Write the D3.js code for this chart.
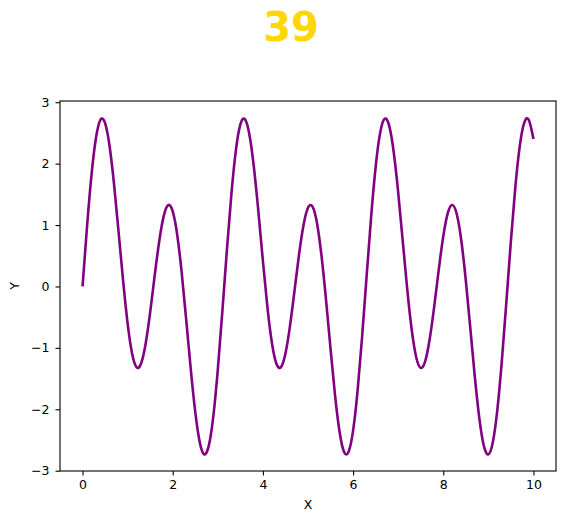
<!DOCTYPE html>
<html>
<head>
<meta charset="utf-8">
<script src="https://cdn.jsdelivr.net/npm/d3@7"></script>
<style>
  html, body { margin: 0; padding: 0; background: #fff; }
  svg { display: block; font-family: "DejaVu Sans", sans-serif; }
</style>
</head>
<body>
<div id="chart"></div>
<script>
// curve values, every 0.1 on x
const xValues = d3.range(0, 101).map(i => i / 10);
const yValues = [
  0.000, 0.978, 1.824, 2.429, 2.717, 2.660, 2.283, 1.655, 0.883, 0.089,
  -0.604, -1.095, -1.317, -1.251, -0.928, -0.418, 0.175, 0.733, 1.145, 1.324,
  1.222, 0.838, 0.218, -0.548, -1.345, -2.047, -2.539, -2.735, -2.592, -2.115,
  -1.352, -0.412, 0.580, 1.496, 2.213, 2.638, 2.725, 2.476, 1.941, 1.214,
  0.414, -0.335, -0.921, -1.259, -1.313, -1.090, -0.646, -0.074, 0.512, 0.997,
  1.282, 1.300, 1.030, 0.497, -0.218, -1.018, -1.774, -2.366, -2.696, -2.692,
  -2.348, -1.696, -0.819, 0.168, 1.133, 1.945, 2.501, 2.731, 2.618, 2.193,
  1.533, 0.747, -0.038, -0.703, -1.152, -1.326, -1.214, -0.852, -0.320, 0.274,
  0.815, 1.193, 1.327, 1.176, 0.748, 0.097, -0.683, -1.473, -2.147, -2.596,
  -2.735, -2.531, -2.000, -1.204, -0.248, 0.743, 1.633, 2.306, 2.677, 2.706,
  2.403
];
const xTicks = [0, 2, 4, 6, 8, 10];
const yTicks = [-3, -2, -1, 0, 1, 2, 3];
const titleText = "39";

(() => {
  const W = 565, H = 524;
  const plot = { left: 60, right: 556, top: 101, bottom: 471 };
  const fontSize = "12.5px";

  const root = d3.select("#chart").append("svg")
    .attr("width", W).attr("height", H)
    .attr("viewBox", `0 0 ${W} ${H}`);

  const x = d3.scaleLinear().domain([-0.5, 10.5]).range([plot.left, plot.right]);
  const y = d3.scaleLinear().domain([-3.005, 3.02]).range([plot.bottom, plot.top]);

  // title
  root.append("text")
    .attr("x", 291).attr("y", 40.7)
    .attr("text-anchor", "middle")
    .attr("fill", "#FFD700")
    .style("font-size", "40px")
    .style("font-weight", "bold")
    .text(titleText);

  const pts = xValues.map((v, i) => [v, yValues[i]]);

  // curve
  root.append("path")
    .datum(pts)
    .attr("fill", "none")
    .attr("stroke", "#800080")
    .attr("stroke-width", 2.6)
    .attr("stroke-linejoin", "round")
    .attr("d", d3.line().x(d => x(d[0])).y(d => y(d[1])).curve(d3.curveNatural));

  // frame
  root.append("rect")
    .attr("x", plot.left).attr("y", plot.top)
    .attr("width", plot.right - plot.left).attr("height", plot.bottom - plot.top)
    .attr("fill", "none").attr("stroke", "#000").attr("stroke-width", 1.1);

  const fmt = v => v < 0 ? "\u2212" + Math.abs(v) : String(v);

  // x axis
  const xAxis = root.append("g")
    .attr("transform", `translate(0,${plot.bottom})`)
    .call(d3.axisBottom(x).tickValues(xTicks).tickSize(4.5).tickPadding(4.5).tickFormat(fmt));
  xAxis.select(".domain").remove();
  xAxis.selectAll("line").attr("stroke", "#000").attr("stroke-width", 1.1);
  xAxis.selectAll("text")
    .attr("fill", "#000")
    .style("font-size", fontSize)
    .style("font-family", "DejaVu Sans, sans-serif");

  // y axis
  const yAxis = root.append("g")
    .attr("transform", `translate(${plot.left},0)`)
    .call(d3.axisLeft(y).tickValues(yTicks).tickSize(4.5).tickPadding(6).tickFormat(fmt));
  yAxis.select(".domain").remove();
  yAxis.selectAll("line").attr("stroke", "#000").attr("stroke-width", 1.1);
  yAxis.selectAll("text")
    .attr("fill", "#000")
    .style("font-size", fontSize)
    .style("font-family", "DejaVu Sans, sans-serif");

  // axis labels
  root.append("text")
    .attr("x", 308).attr("y", 509)
    .attr("text-anchor", "middle")
    .style("font-size", fontSize)
    .text("X");

  root.append("text")
    .attr("transform", "translate(19,286) rotate(-90)")
    .attr("text-anchor", "middle")
    .style("font-size", fontSize)
    .text("Y");
})();
</script>
</body>
</html>
